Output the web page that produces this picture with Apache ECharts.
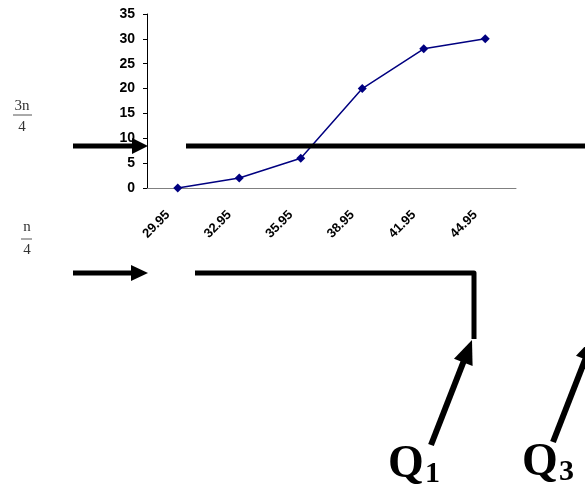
<!DOCTYPE html>
<html>
<head>
<meta charset="utf-8">
<script src="https://cdn.jsdelivr.net/npm/echarts@6/dist/echarts.min.js"></script>
<style>html,body{margin:0;padding:0;background:#fff}#c{width:585px;height:489px}</style>
</head>
<body>
<div id="c"></div>
<script>
var categories = ['29.95', '32.95', '35.95', '38.95', '41.95', '44.95'];
var cumFreq = [0, 2, 6, 20, 28, 30];
var yTicks = { min: 0, max: 35, interval: 5 };

var chart = echarts.init(document.getElementById('c'), null, { renderer: 'canvas' });
var serif = '"Liberation Serif", "Times New Roman", serif';
var K = '#000';

function arrowHead(tip, ux, uy, len, half) {
  var bx = tip[0] - ux * len, by = tip[1] - uy * len;
  var px = -uy, py = ux;
  return [[tip[0], tip[1]], [bx + px * half, by + py * half], [bx - px * half, by - py * half]];
}
var d1 = [41, -105], L1 = Math.sqrt(d1[0] * d1[0] + d1[1] * d1[1]);
var u1 = [d1[0] / L1, d1[1] / L1];

var option = {
  animation: false,
  backgroundColor: '#fff',
  grid: { left: 147, right: 69, top: 14, bottom: 301, containLabel: false },
  xAxis: {
    type: 'category',
    data: categories,
    boundaryGap: true,
    axisLine: { lineStyle: { color: '#808080', width: 1 } },
    axisTick: { show: false },
    axisLabel: { rotate: 45, margin: 15, padding: [0, 14, 0, 0], fontFamily: 'Liberation Sans, Arial', fontWeight: 'bold', fontSize: 13, color: '#000' },
    splitLine: { show: false }
  },
  yAxis: {
    type: 'value',
    min: yTicks.min, max: yTicks.max, interval: yTicks.interval,
    axisLine: { show: true, lineStyle: { color: '#000', width: 1 } },
    axisTick: { show: true, length: 4, lineStyle: { color: '#000' } },
    axisLabel: { margin: 12, fontFamily: 'Liberation Sans, Arial', fontWeight: 'bold', fontSize: 14, color: '#000' },
    splitLine: { show: false }
  },
  series: [{
    type: 'line',
    data: cumFreq,
    symbol: 'diamond',
    symbolSize: 9,
    itemStyle: { color: '#000080' },
    lineStyle: { color: '#000080', width: 1.5 }
  }],
  graphic: [
    // 3n/4 fraction
    { type: 'text', style: { text: '3n', x: 22, y: 106, align: 'center', verticalAlign: 'middle', font: '15px ' + serif, fill: '#333' } },
    { type: 'line', shape: { x1: 13, y1: 115, x2: 32, y2: 115 }, style: { stroke: '#555', lineWidth: 1 } },
    { type: 'text', style: { text: '4', x: 22, y: 127, align: 'center', verticalAlign: 'middle', font: '15px ' + serif, fill: '#333' } },
    // n/4 fraction
    { type: 'text', style: { text: 'n', x: 27, y: 227, align: 'center', verticalAlign: 'middle', font: '15px ' + serif, fill: '#333' } },
    { type: 'line', shape: { x1: 21, y1: 239, x2: 32, y2: 239 }, style: { stroke: '#555', lineWidth: 1 } },
    { type: 'text', style: { text: '4', x: 27, y: 250, align: 'center', verticalAlign: 'middle', font: '15px ' + serif, fill: '#333' } },
    // upper arrow and line
    { type: 'line', z: 10, shape: { x1: 73, y1: 146, x2: 136, y2: 146 }, style: { stroke: K, lineWidth: 5 } },
    { type: 'polygon', z: 10, shape: { points: [[132, 138], [148, 146], [132, 154]] }, style: { fill: K } },
    { type: 'line', z: 10, shape: { x1: 186, y1: 146, x2: 585, y2: 146 }, style: { stroke: K, lineWidth: 5 } },
    // lower arrow and line
    { type: 'line', shape: { x1: 73, y1: 273, x2: 135, y2: 273 }, style: { stroke: K, lineWidth: 5 } },
    { type: 'polygon', shape: { points: [[131, 265], [148, 273], [131, 281]] }, style: { fill: K } },
    { type: 'polyline', shape: { points: [[195, 273], [474, 273], [474, 339]] }, style: { stroke: K, lineWidth: 5, lineJoin: 'round', fill: null } },
    // Q1 arrow
    { type: 'line', shape: { x1: 431, y1: 445, x2: 472 - u1[0] * 20, y2: 340 - u1[1] * 20 }, style: { stroke: K, lineWidth: 6 } },
    { type: 'polygon', shape: { points: arrowHead([472, 340], u1[0], u1[1], 24, 10) }, style: { fill: K } },
    // Q3 arrow
    { type: 'line', shape: { x1: 553, y1: 442, x2: 594 - u1[0] * 20, y2: 337 - u1[1] * 20 }, style: { stroke: K, lineWidth: 6 } },
    { type: 'polygon', shape: { points: arrowHead([594, 337], u1[0], u1[1], 24, 10) }, style: { fill: K } },
    // Q labels
    { type: 'text', style: { text: 'Q', x: 388, y: 465, align: 'left', verticalAlign: 'middle', font: 'bold 46px ' + serif, fill: K } },
    { type: 'text', style: { text: '1', x: 425, y: 474, align: 'left', verticalAlign: 'middle', font: 'bold 30px ' + serif, fill: K } },
    { type: 'text', style: { text: 'Q', x: 522, y: 463, align: 'left', verticalAlign: 'middle', font: 'bold 46px ' + serif, fill: K } },
    { type: 'text', style: { text: '3', x: 559, y: 472, align: 'left', verticalAlign: 'middle', font: 'bold 30px ' + serif, fill: K } }
  ]
};
chart.setOption(option);
</script>
</body>
</html>
